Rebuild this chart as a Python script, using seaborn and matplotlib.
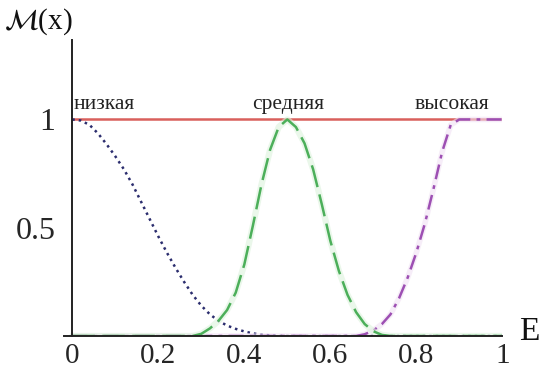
import numpy as np
import pandas as pd
import matplotlib
matplotlib.use("Agg")
import matplotlib.pyplot as plt
import seaborn as sns

# ---- data ----
x_vals = [0.00, 0.02, 0.04, 0.06, 0.08, 0.10, 0.12, 0.14, 0.16, 0.18,
          0.20, 0.22, 0.24, 0.26, 0.28, 0.30, 0.32, 0.34, 0.36, 0.38,
          0.40, 0.42, 0.44, 0.46, 0.48, 0.50, 0.52, 0.54, 0.56, 0.58,
          0.60, 0.62, 0.64, 0.66, 0.68, 0.70, 0.72, 0.74, 0.76, 0.78,
          0.80, 0.82, 0.84, 0.86, 0.88, 0.90, 0.92, 0.94, 0.96, 0.98, 1.00]

low_vals = [1.00, 0.995, 0.975, 0.935, 0.885, 0.83, 0.77, 0.70, 0.62, 0.54,
            0.46, 0.385, 0.315, 0.25, 0.19, 0.14, 0.10, 0.07, 0.048, 0.033,
            0.021, 0.012, 0.006, 0.003, 0.001, 0.0, 0.0, 0.0, 0.0, 0.0,
            0.0, 0.0, 0.0, 0.0, 0.0, 0.0, 0.0, 0.0, 0.0, 0.0,
            0.0, 0.0, 0.0, 0.0, 0.0, 0.0, 0.0, 0.0, 0.0, 0.0, 0.0]

mid_vals = [0.0, 0.0, 0.0, 0.0, 0.0, 0.0, 0.0, 0.0, 0.0, 0.0,
            0.0, 0.0, 0.0, 0.0, 0.0, 0.01, 0.035, 0.07, 0.12, 0.20,
            0.33, 0.51, 0.70, 0.86, 0.965, 1.00, 0.965, 0.89, 0.77, 0.61,
            0.44, 0.30, 0.19, 0.11, 0.055, 0.022, 0.005, 0.0, 0.0, 0.0,
            0.0, 0.0, 0.0, 0.0, 0.0, 0.0, 0.0, 0.0, 0.0, 0.0, 0.0]

high_vals = [0.0, 0.0, 0.0, 0.0, 0.0, 0.0, 0.0, 0.0, 0.0, 0.0,
             0.0, 0.0, 0.0, 0.0, 0.0, 0.0, 0.0, 0.0, 0.0, 0.0,
             0.0, 0.0, 0.0, 0.0, 0.0, 0.0, 0.0, 0.0, 0.0, 0.0,
             0.0, 0.0, 0.0, 0.0, 0.008, 0.025, 0.055, 0.10, 0.175, 0.27,
             0.385, 0.52, 0.68, 0.85, 0.975, 1.0, 1.0, 1.0, 1.0, 1.0, 1.0]

one_vals = [1.0] * len(x_vals)

labels = ["низкая", "средняя", "высокая"]
label_x = [0.0, 0.50, 0.88]
xticks = [0, 0.2, 0.4, 0.6, 0.8, 1]
xtick_labels = ["0", "0.2", "0.4", "0.6", "0.8", "1"]
yticks = [0.5, 1]
ytick_labels = ["0.5", "1"]

# ---- plot ----
sns.set_style("white")
plt.rcParams["font.family"] = ["Liberation Serif", "DejaVu Serif"]
plt.rcParams["mathtext.fontset"] = "stix"

fig = plt.figure(figsize=(5.42, 3.66), dpi=100)
ax = fig.add_axes([0.1175, 0.082, 0.8093, 0.8087])

df = pd.DataFrame({"x": x_vals, "low": low_vals, "mid": mid_vals,
                   "high": high_vals, "one": one_vals})

sns.lineplot(data=df, x="x", y="one", ax=ax, color="#d9605c", lw=1.8)
sns.lineplot(data=df, x="x", y="low", ax=ax, color="#2b2d6e", lw=1.8,
             linestyle=(0, (1, 1.6)))
sns.lineplot(data=df, x="x", y="high", ax=ax, color="#f1e2f4", lw=4.0, alpha=0.6)
sns.lineplot(data=df, x="x", y="high", ax=ax, color="#9d4fb3", lw=1.8,
             linestyle=(0, (6, 2.5, 1.5, 2.5)))
sns.lineplot(data=df, x="x", y="mid", ax=ax, color="#dcf2dc", lw=4.5, alpha=0.6)
sns.lineplot(data=df, x="x", y="mid", ax=ax, color="#4caf5a", lw=1.8,
             linestyle=(0, (9, 3)))

ax.set_xlim(-0.02, 1.0)
ax.set_ylim(0, 1.367)
ax.set_xlabel("")
ax.set_ylabel("")

for s in ["top", "right"]:
    ax.spines[s].set_visible(False)
ax.spines["left"].set_position(("data", 0))
ax.spines["left"].set_color("#222222")
ax.spines["bottom"].set_color("#222222")
ax.spines["left"].set_linewidth(1.4)
ax.spines["bottom"].set_linewidth(1.4)

ax.set_xticks(xticks)
ax.set_xticklabels(xtick_labels, fontsize=21)
ax.set_yticks(yticks)
ax.set_yticklabels(ytick_labels, fontsize=23)
ax.tick_params(axis="x", direction="inout", length=10, width=1.4,
               color="#222222", pad=0)
ax.tick_params(axis="y", direction="out", length=6, width=1.4,
               color="#222222", pad=6)

for lab, lx in zip(labels, label_x):
    ha = "left" if lx == 0.0 else "center"
    ax.text(lx + 0.002, 1.07, lab, ha=ha, va="center", fontsize=15.5,
            color="#222222")

ax.text(1.062, 0.02, "E", ha="center", va="center", fontsize=24,
        color="#111111", clip_on=False)
fig.text(38 / 542, 1 - 22 / 366, r"$\mathcal{M}$(x)", ha="center",
         va="center", fontsize=21, color="#111111")

fig.savefig("out.png", dpi=100)
